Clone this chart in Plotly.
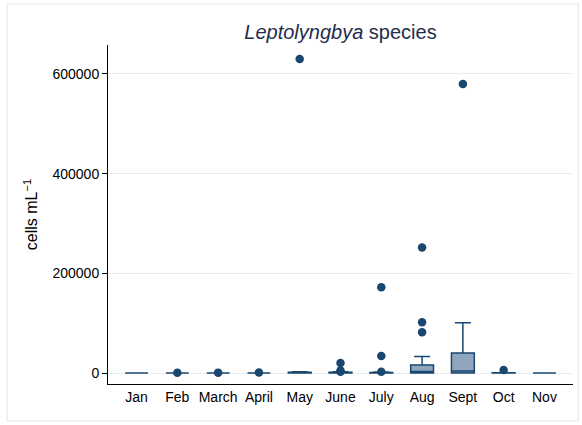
import plotly.graph_objects as go

NAVY = "#1a476f"
BOX_FILL = "#90a6be"
GRID = "#e6eef0"

months = ["Jan", "Feb", "March", "April", "May", "June", "July", "Aug", "Sept", "Oct", "Nov"]
q1 = [0, 0, 0, 0, 0, 0, 0, 0, 0, 0, 0]
median = [0, 0, 0, 0, 0, 0, 0, 3000, 4000, 0, 0]
q3 = [0, 0, 0, 0, 1500, 1500, 1000, 16000, 40000, 500, 0]
lower = [0, 0, 0, 0, 0, 0, 0, 0, 0, 0, 0]
upper = [0, 0, 0, 0, 2500, 2500, 2000, 33000, 101000, 800, 0]

out_month = ["Feb", "March", "April", "May", "June", "June", "June", "July", "July", "July",
             "Aug", "Aug", "Aug", "Sept", "Oct"]
out_value = [700, 800, 900, 630000, 20000, 5000, 2500, 172000, 34000, 2500,
             82000, 102000, 252000, 580000, 6000]

fig = go.Figure()

fig.add_trace(go.Box(
    x=months, q1=q1, median=median, q3=q3,
    lowerfence=lower, upperfence=upper,
    boxpoints=False, width=0.56, whiskerwidth=0.7,
    fillcolor=BOX_FILL, line=dict(color=NAVY, width=1.5),
    showlegend=False, hoverinfo="skip",
))

fig.add_trace(go.Scatter(
    x=out_month, y=out_value, mode="markers",
    marker=dict(color=NAVY, size=8.5), showlegend=False,
))

# light outer frame round the whole graph
fig.add_shape(type="rect", xref="paper", yref="paper",
              x0=-0.217, x1=1.011, y0=-0.109, y1=1.121,
              line=dict(color="#e4ecef", width=1.2), layer="below")

fig.update_layout(
    width=582, height=425,
    paper_bgcolor="white", plot_bgcolor="white",
    margin=dict(l=108, r=9, t=45, b=41),
    font=dict(family="Liberation Sans, Arial, sans-serif", size=14, color="black"),
    title=dict(text="<i>Leptolyngbya</i> species", x=0.5, xref="paper", xanchor="center",
               y=0.925, yanchor="middle",
               font=dict(size=20, color="#1f2d4d")),
)
fig.update_xaxes(
    type="category", categoryorder="array", categoryarray=months,
    range=[-0.7, 10.7], showline=True, linecolor="black", linewidth=1,
    showgrid=False, ticks="", tickfont=dict(size=14),
)
fig.update_yaxes(
    range=[-22000, 658000], tickvals=[0, 200000, 400000, 600000],
    ticktext=["0", "200000", "400000", "600000"],
    showline=True, linecolor="black", linewidth=1,
    showgrid=True, gridcolor=GRID, gridwidth=1, zeroline=False,
    ticks="outside", ticklen=5, tickcolor="black", tickfont=dict(size=14),
    title=dict(text="cells mL<sup>\u22121</sup>", font=dict(size=16), standoff=10),
)

fig.write_html("out.html", config={"displayModeBar": False},
               post_script="document.body.style.margin='0';")
